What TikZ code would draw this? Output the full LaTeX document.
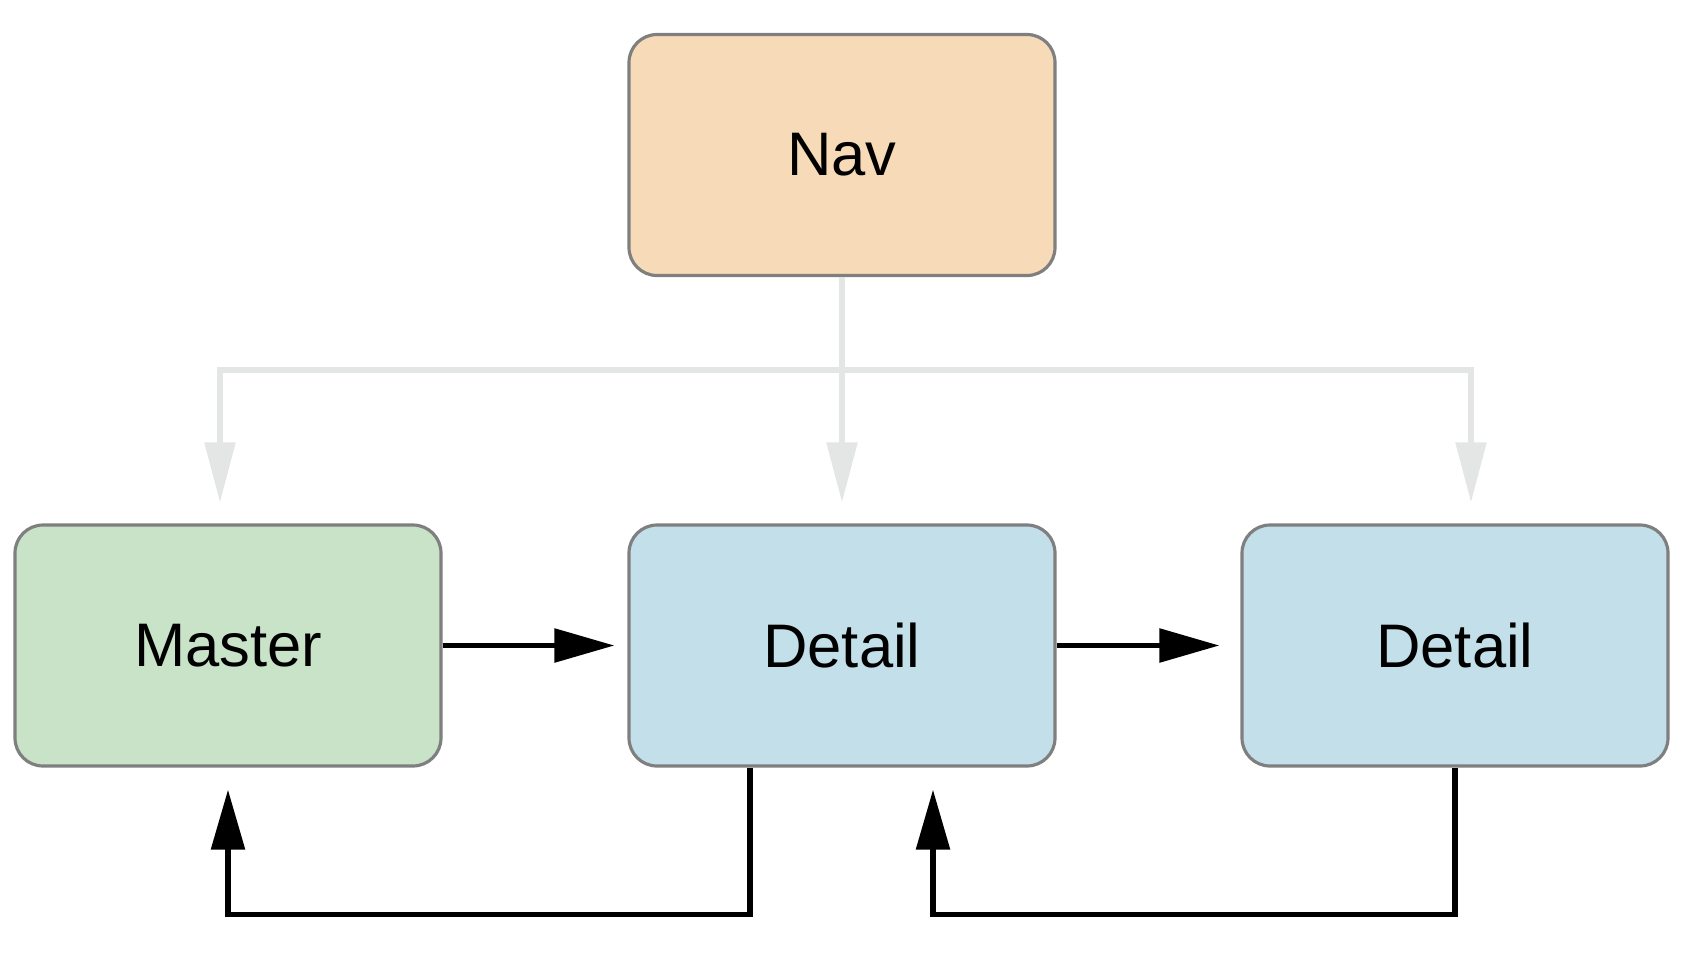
\documentclass[tikz,border=0pt]{standalone}
\usepackage{fontspec}
\setmainfont{Liberation Sans}
\usetikzlibrary{arrows.meta}
\definecolor{navfill}{HTML}{F7DAB7}
\definecolor{masterfill}{HTML}{C8E3C8}
\definecolor{detailfill}{HTML}{C2DFEA}
\definecolor{boxedge}{HTML}{7F7F7F}
\definecolor{navline}{HTML}{E4E5E5}
\begin{document}
\begin{tikzpicture}[every node/.style={draw=boxedge,line width=0.9pt,rounded corners=0.28cm,minimum width=4.26cm,minimum height=2.41cm,inner sep=0pt,align=center,font=\fontsize{17.5pt}{20pt}\selectfont},
  navarrow/.style={draw=navline,line width=1.5pt,-{Triangle[length=0.6cm,width=0.3cm]},shorten >=0.21cm},
  steparrow/.style={line width=1.6pt,-{Triangle[length=0.6cm,width=0.33cm]}}]
\useasboundingbox (0,0) rectangle (16.82,-9.52);
\node[fill=navfill] (nav) at (8.42,-1.55) {Nav};
\node[fill=masterfill] (master) at (2.28,-6.455) {Master};
\node[fill=detailfill] (detaila) at (8.42,-6.455) {Detail};
\node[fill=detailfill] (detailb) at (14.55,-6.455) {Detail};
\draw[navarrow] (nav.south) -- ++(0,-0.93) -| ([xshift=-0.08cm]master.north);
\draw[navarrow] (nav.south) -- (detaila.north);
\draw[navarrow] (nav.south) -- ++(0,-0.93) -| ([xshift=0.16cm]detailb.north);
\draw[steparrow,shorten >=0.13cm] (master.east) -- (detaila.west);
\draw[steparrow,shorten >=0.21cm] (detaila.east) -- (detailb.west);
\draw[steparrow,shorten >=0.22cm] ([xshift=-0.92cm]detaila.south) -- ++(0,-1.47) -| (master.south);
\draw[steparrow,shorten >=0.22cm] (detailb.south) -- ++(0,-1.47) -| ([xshift=0.91cm]detaila.south);
\end{tikzpicture}
\end{document}
